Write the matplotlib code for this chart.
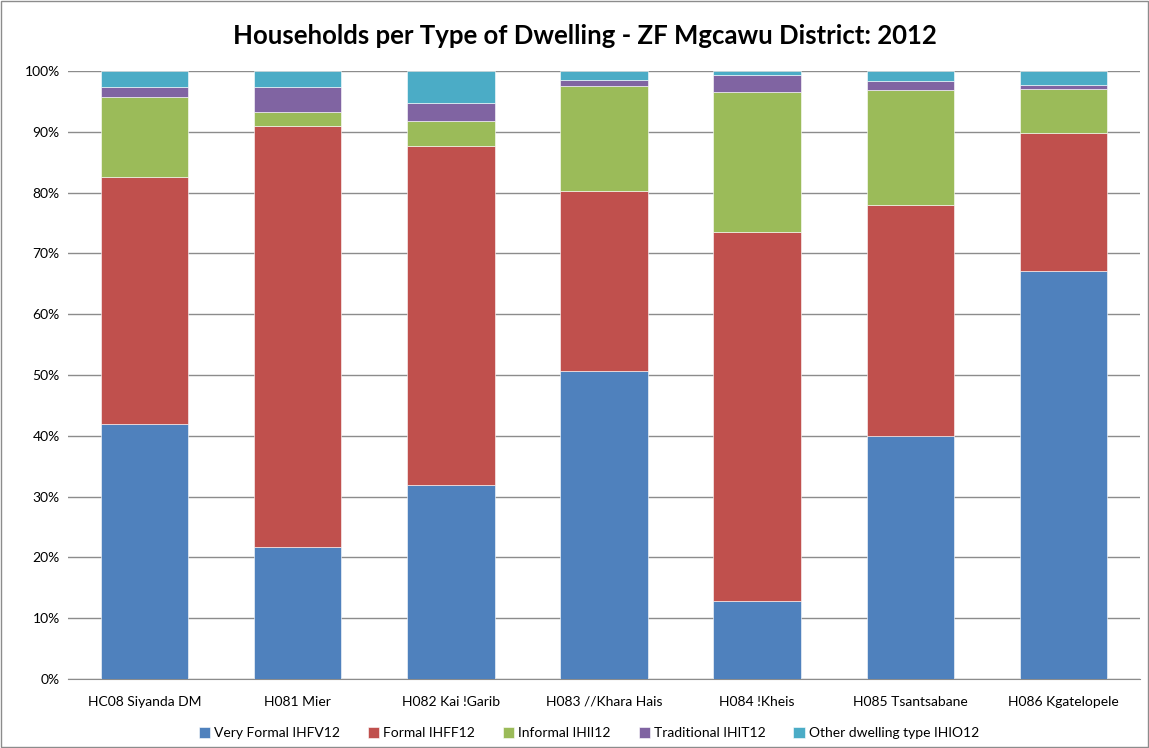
import numpy as np
import matplotlib.pyplot as plt
from matplotlib.ticker import PercentFormatter

# Dados (percentagens)
municipios = ["HC08 Siyanda DM", "H081 Mier", "H082 Kai !Garib", "H083 //Khara Hais",
              "H084 !Kheis", "H085 Tsantsabane", "H086 Kgatelopele"]
very_formal = [41.9, 21.7, 31.9, 50.7, 12.8, 40.0, 67.1]
formal = [40.7, 69.2, 55.7, 29.6, 60.8, 37.9, 22.7]
informal = [13.1, 2.4, 4.2, 17.3, 22.9, 19.0, 7.3]
traditional = [1.7, 4.1, 3.0, 1.0, 2.9, 1.4, 0.6]
other = [2.6, 2.6, 5.2, 1.4, 0.6, 1.7, 2.3]

series = [
    ("Very Formal IHFV12", very_formal, "#4F81BD"),
    ("Formal IHFF12", formal, "#C0504D"),
    ("Informal IHII12", informal, "#9BBB59"),
    ("Traditional IHIT12", traditional, "#8064A2"),
    ("Other dwelling type IHIO12", other, "#4BACC6"),
]

plt.rcParams['font.family'] = ['Lato', 'DejaVu Sans']

fig = plt.figure(figsize=(11.49, 7.48), dpi=100)
ax = fig.add_axes([68 / 1149, 1 - 679 / 748, 1072 / 1149, 608 / 748])

x = np.arange(len(municipios))
bottom = np.zeros(len(municipios))
for nome, vals, cor in series:
    vals = np.array(vals)
    ax.bar(x, vals, 0.57, bottom=bottom, color=cor, label=nome,
           edgecolor="white", linewidth=0.4, zorder=3)
    bottom += vals

ax.set_xlim(-0.5, len(municipios) - 0.5)
ax.set_ylim(0, 100)
ax.set_yticks(np.arange(0, 101, 10))
ax.yaxis.set_major_formatter(PercentFormatter(decimals=0))
ax.set_xticks(x)
ax.set_xticklabels(municipios)
ax.tick_params(axis="both", labelsize=10, length=0, pad=6)
ax.tick_params(axis="x", pad=12)
ax.yaxis.grid(True, color="#8c8c8c", linewidth=1)
ax.set_axisbelow(True)
for s in ["top", "right", "left"]:
    ax.spines[s].set_visible(False)
ax.spines["bottom"].set_color("#8c8c8c")

fig.text(585 / 1149, 1 - 36 / 748, "Households per Type of Dwelling - ZF Mgcawu District: 2012",
         ha="center", va="center", fontsize=18.5, fontweight="bold")

fig.legend(loc="center", bbox_to_anchor=(589 / 1149, 1 - 733 / 748), ncol=5, frameon=False,
           fontsize=10, handlelength=0.8, handleheight=0.8, handletextpad=0.3,
           columnspacing=2.0)

# moldura
fig.patches.append(plt.Rectangle((0.001, 0.001), 0.998, 0.998, transform=fig.transFigure,
                                 fill=False, edgecolor="#8c8c8c", linewidth=1))

fig.savefig("out.png", dpi=100)
